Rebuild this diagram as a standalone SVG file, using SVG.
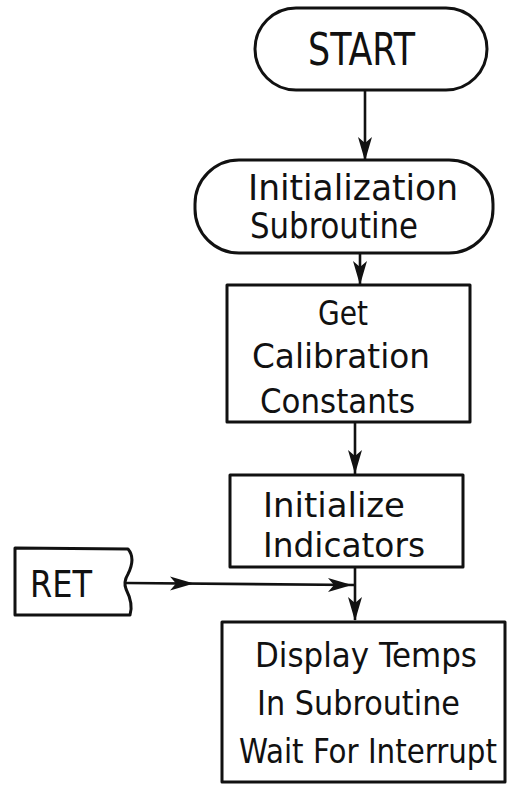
<svg xmlns="http://www.w3.org/2000/svg" width="510" height="788" viewBox="0 0 510 788">
  <defs>
    <style>
      .shape { fill: none; stroke: #111; stroke-width: 3; stroke-linejoin: round; }
      .wire { fill: none; stroke: #111; stroke-width: 2.6; }
      .lbl { font-family: "DejaVu Sans Condensed", "Liberation Sans", sans-serif; fill: #111; }
    </style>
    <!-- arrowhead pointing down, tip at the origin -->
    <path id="head" d="M-7,-24 L0,0 L7,-24 L0,-18 Z" fill="#111"/>
  </defs>
  <rect width="510" height="788" fill="#fff"/>

  <!-- connectors -->
  <g id="connectors">
    <line class="wire" x1="365" y1="90" x2="365" y2="160"/>
    <use href="#head" x="365" y="161"/>
    <line class="wire" x1="360" y1="253" x2="360" y2="285"/>
    <use href="#head" x="360" y="285"/>
    <line class="wire" x1="355" y1="422" x2="355" y2="474"/>
    <use href="#head" x="355" y="474"/>
    <line class="wire" x1="355" y1="567" x2="355" y2="620"/>
    <use href="#head" x="355" y="621"/>
    <line class="wire" x1="126" y1="583" x2="355" y2="585"/>
    <use href="#head" transform="translate(194,583.5) rotate(-90)"/>
    <use href="#head" transform="translate(352,585) rotate(-90)"/>
  </g>

  <g id="start">
    <rect class="shape" x="255" y="8" width="232" height="82" rx="41"/>
    <text class="lbl" x="308" y="65" font-size="44" textLength="107" lengthAdjust="spacingAndGlyphs">START</text>
  </g>

  <g id="init-subroutine">
    <rect class="shape" x="195" y="160" width="298" height="93" rx="44"/>
    <text class="lbl" x="248" y="200" font-size="36" textLength="210" lengthAdjust="spacingAndGlyphs">Initialization</text>
    <text class="lbl" x="250" y="238" font-size="36" textLength="168" lengthAdjust="spacingAndGlyphs">Subroutine</text>
  </g>

  <g id="get-constants">
    <rect class="shape" x="227" y="285" width="243" height="137"/>
    <text class="lbl" x="318" y="325" font-size="34" textLength="50" lengthAdjust="spacingAndGlyphs">Get</text>
    <text class="lbl" x="252" y="368" font-size="34" textLength="178" lengthAdjust="spacingAndGlyphs">Calibration</text>
    <text class="lbl" x="260" y="413" font-size="34" textLength="155" lengthAdjust="spacingAndGlyphs">Constants</text>
  </g>

  <g id="init-indicators">
    <rect class="shape" x="230" y="475" width="233" height="92"/>
    <text class="lbl" x="263" y="517" font-size="34" textLength="142" lengthAdjust="spacingAndGlyphs">Initialize</text>
    <text class="lbl" x="263" y="557" font-size="34" textLength="162" lengthAdjust="spacingAndGlyphs">Indicators</text>
  </g>

  <g id="ret">
    <path class="shape" d="M15,548 L128,549 C134,556 132,566 128,574 C125,579 124,584 126,589 C130,597 133,606 130,615 L15,615 Z"/>
    <text class="lbl" x="30" y="597" font-size="37" textLength="62" lengthAdjust="spacingAndGlyphs">RET</text>
  </g>

  <g id="display-temps">
    <rect class="shape" x="222" y="622" width="283" height="160"/>
    <text class="lbl" x="255" y="667" font-size="33" textLength="222" lengthAdjust="spacingAndGlyphs">Display Temps</text>
    <text class="lbl" x="257" y="715" font-size="33" textLength="203" lengthAdjust="spacingAndGlyphs">In Subroutine</text>
    <text class="lbl" x="239" y="763" font-size="33" textLength="258" lengthAdjust="spacingAndGlyphs">Wait For Interrupt</text>
  </g>
</svg>
